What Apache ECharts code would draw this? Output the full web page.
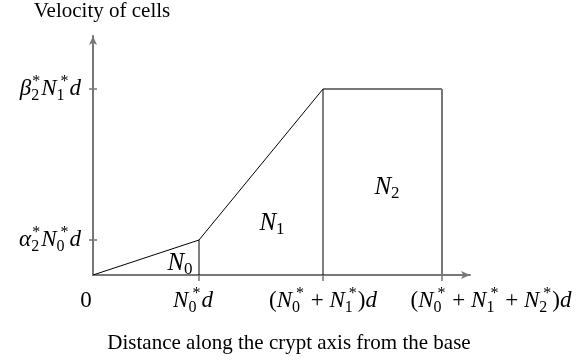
<!DOCTYPE html>
<html>
<head>
<meta charset="utf-8">
<script src="https://cdn.jsdelivr.net/npm/echarts@6/dist/echarts.min.js"></script>
<style>
  html, body { margin: 0; padding: 0; background: #fff; }
  #chart { width: 579px; height: 363px; }
</style>
</head>
<body>
<div id="chart"></div>
<script>
// Compartment boundaries along the crypt axis (distance units)
const xBreaks = [0, 106, 230, 349];
// Velocity levels: zero, alpha2* N0* d, beta2* N1* d
const yLevels = [0, 35, 186];
const xMax = 377;
const yMax = 239;

// Tick label markup (TeX-like, built from rich text fragments)
const xTickLabels = [
  '{rm|0}',
  '{it|N}{sb|0}{sp|*}{it|d}',
  '{rm|(}{it|N}{sb|0}{sp|*}{rm| + }{it|N}{sb|1}{sp|*}{rm|)}{it|d}',
  '{rm|(}{it|N}{sb|0}{sp|*}{rm| + }{it|N}{sb|1}{sp|*}{rm| + }{it|N}{sb|2}{sp|*}{rm|)}{it|d}'
];
const yTickLabels = [
  '',
  '{it|α}{sb|2}{spg|*}{it|N}{sb|0}{sp|*}{it|d}',
  '{it|β}{sb|2}{spg|*}{it|N}{sb|1}{sp|*}{it|d}'
];
// horizontal nudge of each x tick label (px), as typeset
const xLabelNudge = [-7, -6, 0, 49];

// Compartment names and where they sit
const regionNames = ['N|0', 'N|1', 'N|2'];
const regionPos = [[87, 12], [179, 52], [294, 88]];

const serif = '"Liberation Serif", "DejaVu Serif", serif';
const math = {
  it: { align: 'left', fontFamily: serif, fontStyle: 'italic', fontSize: 23, lineHeight: 30, color: '#000' },
  rm: { align: 'left', fontFamily: serif, fontSize: 23, lineHeight: 30, color: '#000' },
  // subscript drawn with zero advance so the superscript stacks above it
  sb: { align: 'left', fontFamily: serif, fontSize: 16, lineHeight: 15, verticalAlign: 'bottom', width: 0, color: '#000' },
  sp: { align: 'left', fontFamily: serif, fontSize: 16, lineHeight: 16, verticalAlign: 'top', padding: [0, 1, 0, 4], color: '#000' },
  spg: { align: 'left', fontFamily: serif, fontSize: 16, lineHeight: 16, verticalAlign: 'top', padding: [0, 1, 0, 1], color: '#000' }
};

const black = '#000';
const grey = '#777';

function seg(pts, color, width) {
  return {
    type: 'line', data: pts, symbol: 'none', silent: true,
    lineStyle: { color: color, width: width }, z: 3
  };
}

const series = [
  // velocity profile
  seg([[xBreaks[0], yLevels[0]], [xBreaks[1], yLevels[1]], [xBreaks[2], yLevels[2]]], black, 1),
  seg([[xBreaks[2], yLevels[2]], [xBreaks[3], yLevels[2]]], grey, 2),
  // compartment boundaries
  seg([[xBreaks[1], yLevels[0]], [xBreaks[1], yLevels[1]]], black, 1),
  seg([[xBreaks[2], yLevels[0]], [xBreaks[2], yLevels[2]]], black, 1),
  seg([[xBreaks[3], yLevels[0]], [xBreaks[3], yLevels[2]]], grey, 2),
  // compartment labels
  {
    type: 'scatter', symbolSize: 0, silent: true,
    itemStyle: { opacity: 1 },
    data: regionPos.map((p, i) => ({ value: p, name: regionNames[i] })),
    label: {
      show: true, position: 'inside', color: '#000',
      formatter: p => { const s = p.name.split('|'); return '{it|' + s[0] + '}{sub|' + s[1] + '}'; },
      rich: {
        it: { align: 'left', fontFamily: serif, fontStyle: 'italic', fontSize: 25, lineHeight: 30, color: '#000' },
        sub: { align: 'left', fontFamily: serif, fontSize: 17, lineHeight: 16, verticalAlign: 'bottom', color: '#000' }
      }
    }
  },
  // x tick labels, anchored at the boundaries on the axis
  {
    type: 'scatter', symbolSize: 0, silent: true, clip: false,
    itemStyle: { opacity: 1 },
    data: xBreaks.map((x, i) => ({
      value: [x, 0],
      label: { offset: [xLabelNudge[i], 0] }
    })),
    label: {
      show: true, position: 'bottom', distance: 11, color: '#000',
      formatter: p => xTickLabels[p.dataIndex],
      rich: math
    }
  }
];

const chart = echarts.init(document.getElementById('chart'), null, { renderer: 'canvas' });
chart.setOption({
  animation: false,
  backgroundColor: '#fff',
  grid: { left: 93, right: 109, top: 36, bottom: 88 },
  xAxis: {
    type: 'value', min: 0, max: xMax,
    name: 'Distance along the crypt axis from the base',
    nameLocation: 'middle', nameGap: 58,
    nameTextStyle: { fontFamily: serif, fontSize: 21, color: '#000', padding: [0, 0, 0, 15] },
    splitLine: { show: false },
    axisLine: { lineStyle: { color: grey, width: 2 }, symbol: ['none', 'arrow'], symbolSize: [6, 9] },
    axisTick: { show: true, length: 6, lineStyle: { color: grey, width: 1.5 }, customValues: xBreaks.slice(1) },
    axisLabel: { show: false }
  },
  yAxis: [{
    type: 'value', min: 0, max: yMax,
    name: 'Velocity of cells', nameLocation: 'end', nameGap: 14,
    nameTextStyle: { fontFamily: serif, fontSize: 21, color: '#000', padding: [0, 0, 0, 18] },
    splitLine: { show: false },
    axisLine: { lineStyle: { color: grey, width: 2 }, symbol: ['none', 'arrow'], symbolSize: [6, 9] },
    axisTick: { show: true, length: 4, lineStyle: { color: grey, width: 1.5 }, customValues: yLevels.slice(1) },
    axisLabel: {
      margin: 12, customValues: yLevels.slice(1), hideOverlap: false,
      formatter: v => yTickLabels[yLevels.indexOf(v)], rich: math
    }
  }, {
    // inner half of the crossing ticks
    type: 'value', min: 0, max: yMax, position: 'left', offset: 0,
    splitLine: { show: false }, axisLine: { show: false }, axisLabel: { show: false },
    axisTick: { show: true, inside: true, length: 4, lineStyle: { color: grey, width: 1.5 }, customValues: yLevels.slice(1) }
  }],
  series: series
});
</script>
</body>
</html>
